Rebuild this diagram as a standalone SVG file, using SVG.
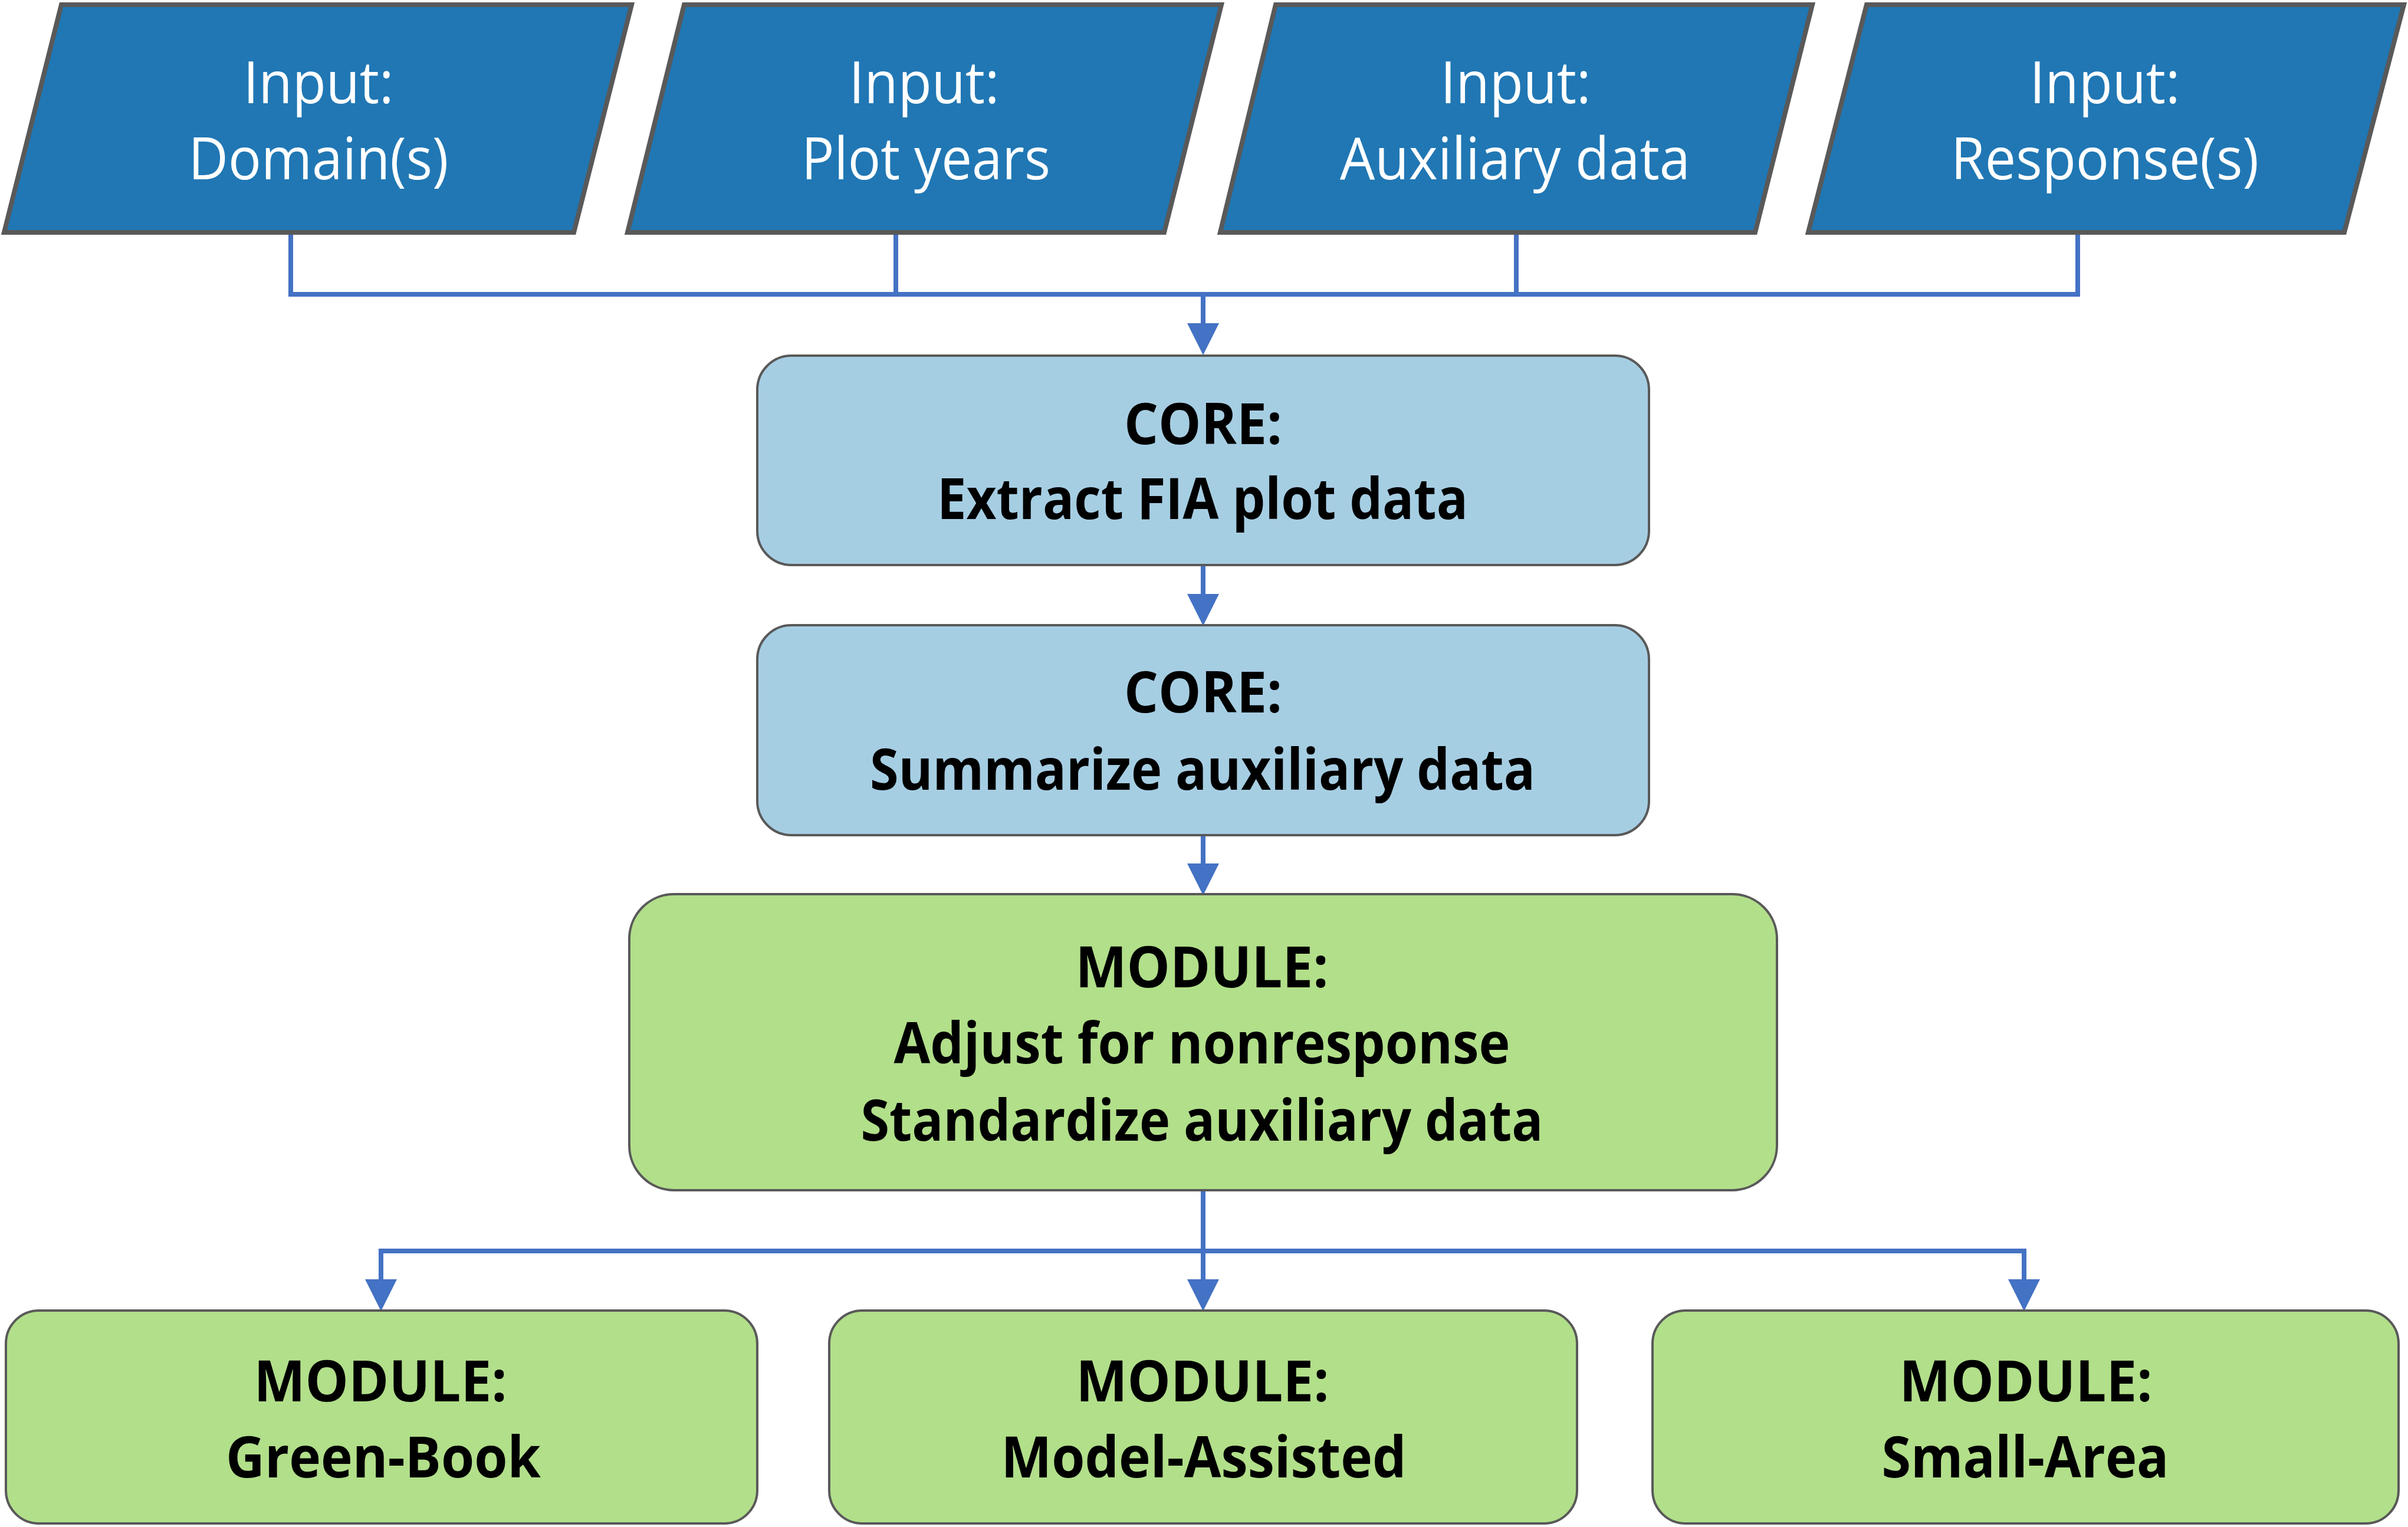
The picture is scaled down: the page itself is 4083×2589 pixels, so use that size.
<svg xmlns="http://www.w3.org/2000/svg" width="4083" height="2589" viewBox="0 0 4083 2589">
<style>
.inp{fill:#2077B4;stroke:#595959;stroke-width:8;stroke-linejoin:miter}
.core{fill:#A6CEE3;stroke:#595959;stroke-width:4}
.mod{fill:#B2DF8A;stroke:#595959;stroke-width:4}
.w{font-family:"Open Sans","Noto Sans","Liberation Sans",sans-serif;font-size:98px;fill:#ffffff;text-anchor:middle}
.b{font-family:"Open Sans","Noto Sans","Liberation Sans",sans-serif;font-size:96px;font-weight:bold;fill:#000000;text-anchor:middle}
.con{fill:none;stroke:#4472C4;stroke-width:8}
</style>
<defs>
<marker id="arr" viewBox="0 0 10 10" refX="0" refY="5" markerWidth="6.75" markerHeight="6.75" orient="auto" markerUnits="strokeWidth">
<path d="M0,0 L10,5 L0,10 z" fill="#4472C4"/>
</marker>
</defs>
<rect width="4083" height="2589" fill="#ffffff"/>
<g id="connectors">
<path class="con" d="M493,394 V499 M1519,394 V499 M2571,394 V499 M3523,394 V499 M489,499 H3527"/>
<path class="con" d="M2040,499 V548" marker-end="url(#arr)"/>
<path class="con" d="M2040,958 V1007" marker-end="url(#arr)"/>
<path class="con" d="M2040,1416 V1464" marker-end="url(#arr)"/>
<path class="con" d="M2040,2018 V2169" marker-end="url(#arr)"/>
<path class="con" d="M642,2121 H3436"/>
<path class="con" d="M646,2121 V2169" marker-end="url(#arr)"/>
<path class="con" d="M3432,2121 V2169" marker-end="url(#arr)"/>
</g>
<g id="input-domains">
<polygon class="inp" points="104,8 1071,8 973,394 7,394"/>
<text class="w" x="540" y="175" textLength="255" lengthAdjust="spacingAndGlyphs">Input:</text>
<text class="w" x="540" y="304" textLength="441" lengthAdjust="spacingAndGlyphs">Domain(s)</text>
</g>
<g id="input-plot-years">
<polygon class="inp" points="1160,8 2071,8 1974,394 1064,394"/>
<text class="w" x="1567" y="175" textLength="255" lengthAdjust="spacingAndGlyphs">Input:</text>
<text class="w" x="1570" y="304" textLength="422" lengthAdjust="spacingAndGlyphs">Plot years</text>
</g>
<g id="input-auxiliary">
<polygon class="inp" points="2163,8 3073,8 2976,394 2069,394"/>
<text class="w" x="2570" y="175" textLength="255" lengthAdjust="spacingAndGlyphs">Input:</text>
<text class="w" x="2569" y="304" textLength="594" lengthAdjust="spacingAndGlyphs">Auxiliary data</text>
</g>
<g id="input-responses">
<polygon class="inp" points="3165,8 4076,8 3975,394 3066,394"/>
<text class="w" x="3569" y="175" textLength="255" lengthAdjust="spacingAndGlyphs">Input:</text>
<text class="w" x="3569" y="304" textLength="522" lengthAdjust="spacingAndGlyphs">Response(s)</text>
</g>
<g id="core-extract">
<rect class="core" x="1284" y="603" width="1512" height="355" rx="58" ry="58"/>
<text class="b" x="2040" y="753" textLength="268" lengthAdjust="spacingAndGlyphs">CORE:</text>
<text class="b" x="2039" y="880" textLength="900" lengthAdjust="spacingAndGlyphs">Extract FIA plot data</text>
</g>
<g id="core-summarize">
<rect class="core" x="1284" y="1060" width="1512" height="356" rx="58" ry="58"/>
<text class="b" x="2040" y="1208" textLength="268" lengthAdjust="spacingAndGlyphs">CORE:</text>
<text class="b" x="2039" y="1339" textLength="1128" lengthAdjust="spacingAndGlyphs">Summarize auxiliary data</text>
</g>
<g id="module-adjust">
<rect class="mod" x="1067" y="1516" width="1946" height="502" rx="76" ry="76"/>
<text class="b" x="2038" y="1674" textLength="429" lengthAdjust="spacingAndGlyphs">MODULE:</text>
<text class="b" x="2038" y="1803" textLength="1045" lengthAdjust="spacingAndGlyphs">Adjust for nonresponse</text>
<text class="b" x="2038" y="1934" textLength="1157" lengthAdjust="spacingAndGlyphs">Standardize auxiliary data</text>
</g>
<g id="module-green-book">
<rect class="mod" x="10" y="2222" width="1274" height="361" rx="56" ry="56"/>
<text class="b" x="645" y="2376" textLength="429" lengthAdjust="spacingAndGlyphs">MODULE:</text>
<text class="b" x="650" y="2505" textLength="534" lengthAdjust="spacingAndGlyphs">Green-Book</text>
</g>
<g id="module-model-assisted">
<rect class="mod" x="1406" y="2222" width="1268" height="361" rx="56" ry="56"/>
<text class="b" x="2039" y="2376" textLength="429" lengthAdjust="spacingAndGlyphs">MODULE:</text>
<text class="b" x="2041" y="2505" textLength="687" lengthAdjust="spacingAndGlyphs">Model-Assisted</text>
</g>
<g id="module-small-area">
<rect class="mod" x="2802" y="2222" width="1265" height="361" rx="56" ry="56"/>
<text class="b" x="3435" y="2376" textLength="429" lengthAdjust="spacingAndGlyphs">MODULE:</text>
<text class="b" x="3434" y="2505" textLength="487" lengthAdjust="spacingAndGlyphs">Small-Area</text>
</g>
</svg>
